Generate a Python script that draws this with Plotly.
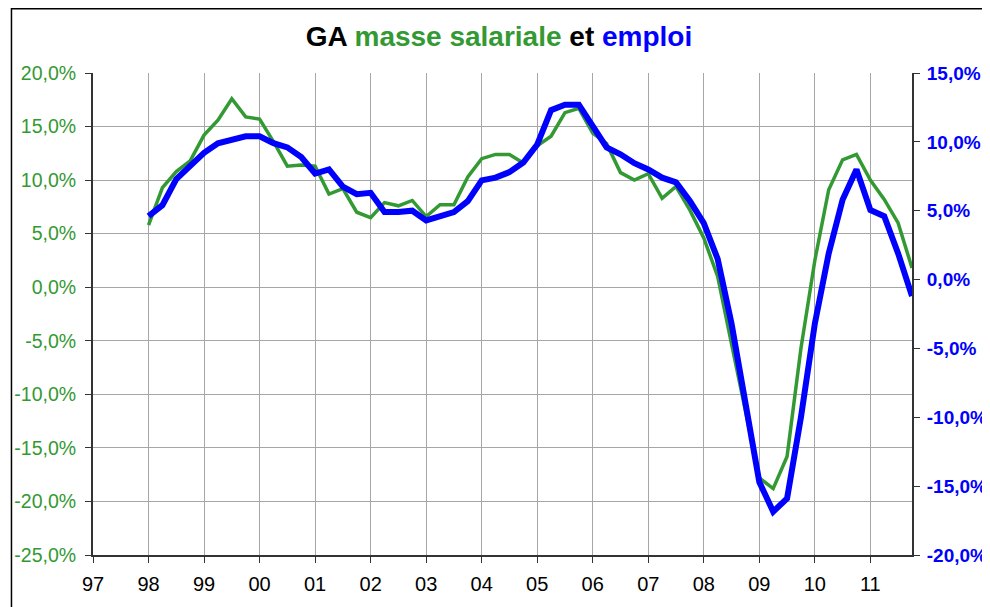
import plotly.graph_objects as go

# Quarterly data, 1998Q1 .. 2011Q4
years = list(range(1998, 2012))
quarters = [y + q / 4 for y in years for q in range(4)]

masse_salariale = [
    5.8, 9.3, 10.8, 11.8,
    14.2, 15.6, 17.6, 15.9,
    15.7, 13.6, 11.3, 11.4,
    11.3, 8.7, 9.2, 7.0,
    6.5, 7.9, 7.6, 8.1,
    6.6, 7.7, 7.7, 10.3,
    12.0, 12.4, 12.4, 11.6,
    13.2, 14.1, 16.3, 16.7,
    14.4, 13.4, 10.7, 10.0,
    10.6, 8.3, 9.4, 7.2,
    4.6, 1.0, -5.3, -11.5,
    -17.8, -18.8, -15.8, -5.7,
    2.5, 9.1, 11.9, 12.4,
    10.0, 8.2, 6.0, 1.8,
]

emploi = [
    4.6, 5.4, 7.3, 8.3,
    9.2, 9.9, 10.1, 10.4,
    10.4, 9.9, 9.6, 8.9,
    7.7, 8.0, 6.75, 6.2,
    6.3, 4.9, 4.9, 5.0,
    4.3, 4.6, 4.9, 5.7,
    7.2, 7.4, 7.8, 8.5,
    9.8, 12.3, 12.7, 12.7,
    11.2, 9.6, 9.1, 8.45,
    8.0, 7.4, 7.06, 5.7,
    4.1, 1.5, -3.2, -8.9,
    -14.7, -16.85, -15.9, -10.0,
    -3.2, 1.9, 5.8, 8.0,
    5.05, 4.6, 1.9, -1.2,
]

tick_years = list(range(1997, 2012))
tick_labels = [f"{y % 100:02d}" for y in tick_years]

left_ticks = [-25, -20, -15, -10, -5, 0, 5, 10, 15, 20]
left_labels = ["-25,0%", "-20,0%", "-15,0%", "-10,0%", "-5,0%", "0,0%",
               "5,0%", "10,0%", "15,0%", "20,0%"]
right_ticks = [-20, -15, -10, -5, 0, 5, 10, 15]
right_labels = ["-20,0%", "-15,0%", "-10,0%", "-5,0%", "0,0%",
                "5,0%", "10,0%", "15,0%"]

GREEN = "#339933"
BLUE = "#0000FF"
GRID = "#A6A6A6"
AXIS = "#333333"
SANS = "Liberation Sans, Arial, sans-serif"

# the page body adds an 8px offset, so the figure is 8px smaller
W, H = 982, 599
L, T = 85, 65
R = W - (911.7 - 8)
B = H - (555 - 8)
PW, PH = W - L - R, H - T - B

fig = go.Figure()
fig.add_trace(go.Scatter(x=quarters, y=masse_salariale, mode="lines",
                         line=dict(color=GREEN, width=3.5), yaxis="y",
                         name="masse salariale", showlegend=False))
fig.add_trace(go.Scatter(x=quarters, y=emploi, mode="lines",
                         line=dict(color=BLUE, width=6), yaxis="y2",
                         name="emploi", showlegend=False))

fig.update_layout(
    width=W, height=H,
    margin=dict(l=L, r=R, t=T, b=B, autoexpand=False),
    paper_bgcolor="white", plot_bgcolor="white",
    font=dict(family=SANS, size=17, color="black"),
    title=dict(
        text="<b>GA <span style='color:#339933'>masse salariale</span> et "
             "<span style='color:#0000FF'>emploi</span></b>",
        xref="container", x=491 / W, xanchor="center",
        yref="container", y=1 - 28 / H, yanchor="middle",
        font=dict(family=SANS, size=28, color="black"),
    ),
    xaxis=dict(
        range=[1997, 2011.75], tickmode="array", tickvals=tick_years, ticktext=tick_labels,
        showgrid=True, gridcolor=GRID, gridwidth=1,
        showline=True, linecolor=AXIS, linewidth=2,
        ticks="outside", ticklen=6, tickcolor=AXIS,
        tickfont=dict(family=SANS, size=20, color="black"), zeroline=False,
        automargin=False, ticklabelstandoff=4,
    ),
    yaxis=dict(
        range=[-25, 20], tickmode="array", tickvals=left_ticks, ticktext=left_labels,
        showgrid=True, gridcolor=GRID, gridwidth=1,
        showline=True, linecolor=AXIS, linewidth=2,
        ticks="outside", ticklen=6, tickcolor=AXIS,
        tickfont=dict(family=SANS, size=19.5, color=GREEN), zeroline=False,
        automargin=False, ticklabelstandoff=5,
    ),
    yaxis2=dict(
        range=[-20, 15], tickmode="array", tickvals=right_ticks, ticktext=right_labels,
        overlaying="y", side="right", showgrid=False,
        showline=True, linecolor=AXIS, linewidth=2,
        ticks="outside", ticklen=6, tickcolor=AXIS,
        tickfont=dict(family=SANS, size=19, color=BLUE, weight="bold"),
        zeroline=False, automargin=False, ticklabelstandoff=3,
    ),
    shapes=[dict(type="rect", xref="paper", yref="paper",
                 x0=(3.5 - L) / PW, x1=(W + 20 - L) / PW,
                 y0=-(B + 20) / PH, y1=(PH + T - 0.75) / PH,
                 line=dict(color="black", width=1.5), layer="below")],
)

fig.write_html("out.html")
